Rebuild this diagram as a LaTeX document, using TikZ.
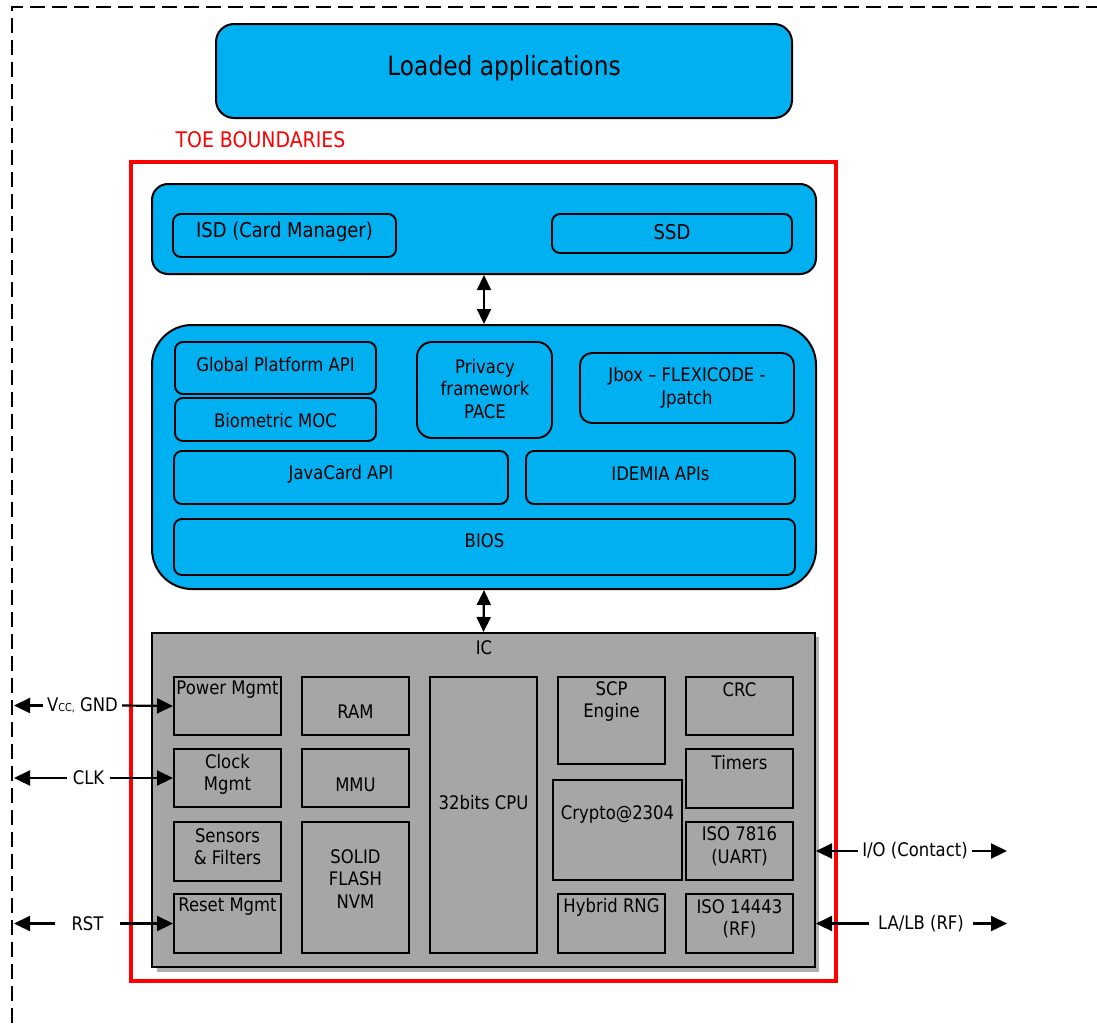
\documentclass[tikz,border=0pt]{standalone}
\usepackage{fontspec}
\setmainfont{DejaVu Sans}[FakeStretch=0.88]
\usetikzlibrary{arrows.meta,fit}
\definecolor{cyanbox}{HTML}{00B0F0}
\definecolor{icgray}{HTML}{A6A6A6}
\definecolor{icshadow}{HTML}{B0B0B0}
\definecolor{toered}{HTML}{FF0000}
\tikzset{
  bigblue/.style={draw, line width=2pt, fill=cyanbox, inner sep=0pt, rounded corners=16pt},
  subblue/.style={draw, line width=1.9pt, fill=cyanbox, inner sep=0pt, rounded corners=8pt},
  icbox/.style={draw, line width=2pt, fill=icgray, inner sep=0pt},
  txt/.style={font=\fontsize{18.7}{22.5}\selectfont, inner sep=0pt, align=center},
  sig/.style={font=\fontsize{18.7}{22.5}\selectfont, inner sep=0pt, inner xsep=4pt},
  arr/.style={line width=2.2pt, -{Triangle[length=16pt,width=15pt]}},
  darr/.style={line width=2.2pt, {Triangle[length=15pt,width=14pt]}-{Triangle[length=15pt,width=14pt]}},
  frame/.style={line width=1.9pt, dash pattern=on 15pt off 7pt}
}
\begin{document}
\begin{tikzpicture}[x=1pt,y=-1pt]
\useasboundingbox (0,0) rectangle (1097,1023);
% outer dashed frame
\draw[frame] (12,1023) -- (12,7) -- (1097,7);

% loaded applications
\node[bigblue, rounded corners=18pt, fit={(216,24) (792,118)}] (apps) {};
\node[txt, font=\fontsize{26.5}{30}\selectfont] (appst) at (504,68) {Loaded applications};

% TOE boundaries
\node[txt, font=\fontsize{21.5}{25}\selectfont, text=toered] (toet) at (260.5,140) {TOE BOUNDARIES};
\node[draw=toered, line width=3.5pt, inner sep=0pt, fit={(131,162) (836,981)}] (toe) {};

% top layer
\node[bigblue, fit={(152,184) (816,274)}] (top) {};
\node[subblue, fit={(173,214) (396,257)}] (isd) {};
\node[txt, font=\fontsize{20.4}{24}\selectfont] (isdt) at (284.5,232) {ISD (Card Manager)};
\node[subblue, fit={(552,214) (792,253)}] (ssd) {};
\node[txt, font=\fontsize{20.4}{24}\selectfont] (ssdt) at (672,232) {SSD};

% middle layer
\node[bigblue, rounded corners=40pt, fit={(152,325) (816,589)}] (mid) {};
\node[subblue, fit={(175,342) (376,394)}] (gp) {};
\node[txt] (gpt) at (275.5,365) {Global Platform API};
\node[subblue, fit={(175,398) (376,441)}] (bio) {};
\node[txt] (biot) at (275.5,421) {Biometric MOC};
\node[subblue, rounded corners=15pt, fit={(417,342) (552,438)}] (pace) {};
\node[txt] (pacet) at (485,389) {Privacy\\framework\\PACE};
\node[subblue, rounded corners=12pt, fit={(580,353) (794,423)}] (jbox) {};
\node[txt] (jboxt) at (687,388) {Jbox – FLEXICODE -\\Jpatch};
\node[subblue, fit={(174,451) (508,504)}] (jc) {};
\node[txt] (jct) at (341,474) {JavaCard API};
\node[subblue, fit={(526,451) (795,504)}] (idm) {};
\node[txt] (idmt) at (660.5,474) {IDEMIA APIs};
\node[subblue, fit={(174,519) (795,575)}] (bios) {};
\node[txt] (biost) at (484.5,541) {BIOS};

% IC
\fill[icshadow] (157,637) rectangle (819,972);
\node[icbox, fit={(152,633) (815,967)}] (ic) {};
\node[txt] (ict) at (484,648) {IC};

\node[icbox, fit={(174,677) (281,735)}] (pm) {};
\node[txt] (pmt) at (227.5,690) {Power Mgmt};
\node[icbox, fit={(302,677) (409,735)}] (ram) {};
\node[txt] (ramt) at (355.5,712) {RAM};
\node[icbox, fit={(174,749) (281,807)}] (cm) {};
\node[txt] (cmt) at (227.5,774.5) {Clock\\Mgmt};
\node[icbox, fit={(302,749) (409,807)}] (mmu) {};
\node[txt] (mmut) at (355.5,785) {MMU};
\node[icbox, fit={(174,822) (281,881)}] (sf) {};
\node[txt] (sft) at (227.5,846.5) {Sensors\\\& Filters};
\node[icbox, fit={(302,822) (409,953)}] (nvm) {};
\node[txt] (nvmt) at (355.5,879) {SOLID\\FLASH\\NVM};
\node[icbox, fit={(174,894) (281,953)}] (rm) {};
\node[txt] (rmt) at (227.5,907) {Reset Mgmt};
\node[icbox, fit={(430,677) (537,953)}] (cpu) {};
\node[txt] (cput) at (483.5,803) {32bits CPU};
\node[icbox, fit={(558,677) (665,764)}] (scp) {};
\node[txt] (scpt) at (611.5,701.5) {SCP\\Engine};
\node[icbox, fit={(553,780) (682,880)}] (cry) {};
\node[txt] (cryt) at (617.5,814) {Crypto@2304};
\node[icbox, fit={(558,894) (665,953)}] (rng) {};
\node[txt] (rngt) at (611.5,907) {Hybrid RNG};
\node[icbox, fit={(686,677) (793,735)}] (crc) {};
\node[txt] (crct) at (739.5,690) {CRC};
\node[icbox, fit={(686,749) (793,808)}] (tim) {};
\node[txt] (timt) at (739.5,763) {Timers};
\node[icbox, fit={(686,822) (793,880)}] (uart) {};
\node[txt] (uartt) at (739.5,846.5) {ISO 7816\\(UART)};
\node[icbox, fit={(686,894) (793,953)}] (rf) {};
\node[txt] (rft) at (739.5,919) {ISO 14443\\(RF)};

% vertical double arrows
\draw[darr] (top.south) -- (mid.north);
\draw[darr] (mid.south) -- (ic.north);

% left signals
\coordinate (vccL) at (14,705.5);
\node[sig] (vcc) at (82.5,705.5) {V{\fontsize{11}{12}\selectfont CC,} GND};
\draw[arr] (vcc.west) -- (vccL);
\draw[arr] (vcc.east) -- (pm.west);

\coordinate (clkL) at (14,778);
\node[sig, inner xsep=6pt] (clk) at (88.5,778) {CLK};
\draw[arr] (clk.west) -- (clkL);
\draw[arr] (clk.east) -- (cm.west);

\coordinate (rstL) at (14,923.5);
\node[sig, inner xsep=16pt] (rst) at (87.5,923.5) {RST};
\draw[arr] (rst.west) -- (rstL);
\draw[arr] (rst.east) -- (rm.west);

% right signals
\coordinate (ioR) at (1007,851);
\node[sig] (io) at (915,851) {I/O (Contact)};
\draw[arr] (io.west) -- (io.west -| ic.east);
\draw[arr] (io.east) -- (ioR);

\coordinate (lalbR) at (1007,923.5);
\node[sig, inner xsep=9pt] (lalb) at (921,923.5) {LA/LB (RF)};
\draw[arr] (lalb.west) -- (lalb.west -| ic.east);
\draw[arr] (lalb.east) -- (lalbR);
\end{tikzpicture}
\end{document}
